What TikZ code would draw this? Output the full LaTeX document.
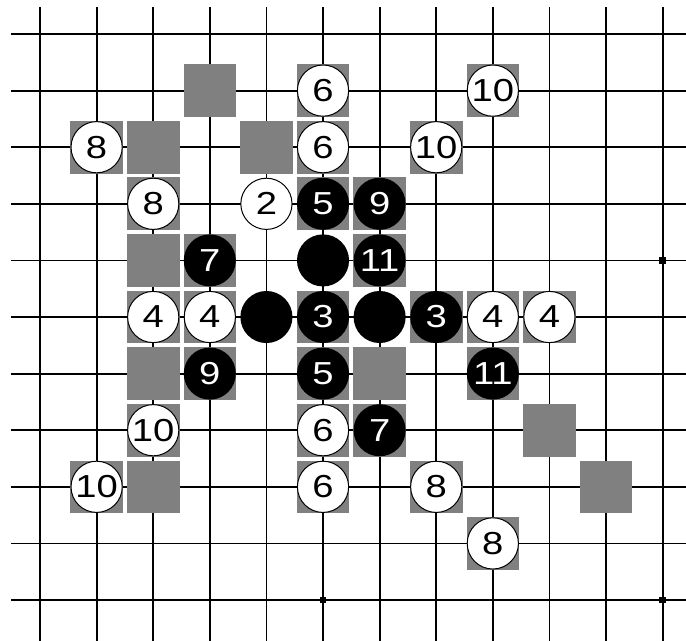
\documentclass[tikz,border=0pt]{standalone}
\usepackage{fontspec}
\setmainfont{Liberation Sans}
\newfontfamily\stonefamily{Liberation Sans}[FakeStretch=1.2]
\definecolor{sqgray}{HTML}{808080}
\newcommand\stonefnt{\stonefamily\fontsize{16pt}{16pt}\selectfont}
\tikzset{
  gridline/.style={line width=0.9pt, black},
  graysq/.style={rectangle, fill=sqgray, draw=none, minimum size=0.93cm, inner sep=0pt},
  wstone/.style={circle, fill=white, draw=black, line width=0.5pt, minimum size=0.905cm, inner sep=0pt, font=\stonefnt},
  bstone/.style={circle, fill=black, draw=none, minimum size=0.92cm, inner sep=0pt, text=white, font=\stonefnt},
  hoshi/.style={rectangle, fill=black, minimum size=0.12cm, inner sep=0pt}
}
\begin{document}
\begin{tikzpicture}[x=1cm,y=1cm]
\useasboundingbox (-0.707,0.601) rectangle (11.413,-10.724);
% grid
\foreach \j in {0,...,10} \draw[gridline] (-0.512,-\j) -- (11.413,-\j);
\foreach \i in {0,...,11} \draw[gridline] (\i,0.477) -- (\i,-10.724);
% star points
\node[hoshi] (h1) at (11,-4) {};
\node[hoshi] (h2) at (5,-10) {};
\node[hoshi] (h3) at (11,-10) {};
% gray squares (alone and behind stones)
\foreach \x/\y [count=\k] in {3/1,2/2,4/2,2/4,2/6,6/6,9/7,2/8,10/8,
  5/1,8/1,1/2,5/2,7/2,2/3,2/5,3/5,8/5,9/5,2/7,5/7,1/8,5/8,7/8,8/9,
  5/3,6/3,3/4,6/4,5/5,7/5,3/6,5/6,8/6,6/7}
  \node[graysq] (q\k) at (\x,-\y) {};
% white stones
\foreach \x/\y/\t [count=\k] in {5/1/6,8/1/10,1/2/8,5/2/6,7/2/10,2/3/8,4/3/2,
  2/5/4,3/5/4,8/5/4,9/5/4,2/7/10,5/7/6,1/8/10,5/8/6,7/8/8,8/9/8}
  \node[wstone] (w\k) at (\x,-\y) {\t};
% black stones
\foreach \x/\y/\t [count=\k] in {5/3/5,6/3/9,3/4/7,5/4/{},6/4/11,4/5/{},5/5/3,
  6/5/{},7/5/3,3/6/9,5/6/5,8/6/11,6/7/7}
  \node[bstone] (b\k) at (\x,-\y) {\t};
\end{tikzpicture}
\end{document}
